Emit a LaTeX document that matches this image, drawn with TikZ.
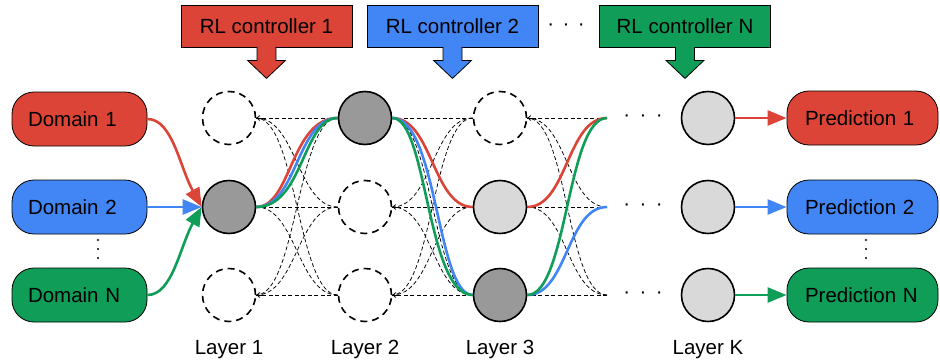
\documentclass[tikz,border=0pt]{standalone}
\usepackage{fontspec}
\setmainfont{Liberation Sans}
\usetikzlibrary{arrows.meta,calc}
\definecolor{gred}{HTML}{DB4437}
\definecolor{gblue}{HTML}{4285F4}
\definecolor{ggreen}{HTML}{0F9D58}
\definecolor{dgray}{HTML}{999999}
\definecolor{lgray}{HTML}{D9D9D9}
\begin{document}
\begin{tikzpicture}[x=1pt,y=-1pt,
  every node/.style={font=\fontsize{20.5}{24}\selectfont},
  unit/.style={circle, draw, line width=1.6pt, minimum size=53pt, inner sep=0pt},
  ghost/.style={unit, dash pattern=on 7pt off 5pt},
  darkunit/.style={unit, fill=dgray},
  lightunit/.style={unit, fill=lgray},
  pill/.style={draw, line width=0.8pt, rounded corners=22pt, minimum height=54pt,
    inner ysep=0pt, align=left},
  dombox/.style={pill, minimum width=135pt, text width=103pt, inner xsep=16pt},
  predbox/.style={pill, minimum width=151pt, text width=115pt, inner xsep=18pt},
  ctrl/.style={draw, line width=0.8pt, minimum width=171pt, minimum height=42pt, inner sep=0pt},
  conn/.style={draw, line width=0.75pt, dash pattern=on 4pt off 2.5pt},
  connarrow/.style={conn, -{Straight Barb[length=3pt,width=5pt]}},
  cline/.style={line width=2.6pt},
  bigtip/.style={-{Triangle[length=19pt,width=15pt]}},
  hdots/.style={inner sep=0pt},
  vdot/.style={circle, fill=black, inner sep=0pt, minimum size=2.4pt}
]
\useasboundingbox (0,0) rectangle (940,362);

% domains
\node[dombox, fill=gred] (D1) at (79.5,119) {Domain 1};
\node[dombox, fill=gblue] (D2) at (79.5,207) {Domain 2};
\node[dombox, fill=ggreen] (DN) at (79.5,295) {Domain N};
\node[vdot] (dv1) at (98,240) {};
\node[vdot] (dv2) at (98,249) {};
\node[vdot] (dv3) at (98,258) {};

% predictions
\node[predbox, fill=gred] (P1) at (862.5,118) {Prediction 1};
\node[predbox, fill=gblue] (P2) at (862.5,207) {Prediction 2};
\node[predbox, fill=ggreen] (PN) at (862.5,295) {Prediction N};
\node[vdot] (pv1) at (866,240) {};
\node[vdot] (pv2) at (866,249) {};
\node[vdot] (pv3) at (866,258) {};

% layers
\node[ghost] (L1a) at (229,118) {};
\node[darkunit] (L1b) at (229,207) {};
\node[ghost] (L1c) at (229,295) {};
\node[darkunit] (L2a) at (365,118) {};
\node[ghost] (L2b) at (365,207) {};
\node[ghost] (L2c) at (365,295) {};
\node[ghost] (L3a) at (500,118) {};
\node[lightunit] (L3b) at (500,207) {};
\node[darkunit] (L3c) at (500,295) {};
\coordinate (E1) at (607,118);
\coordinate (E2) at (607,207);
\coordinate (E3) at (607,295);
\node[lightunit] (LKa) at (708,118) {};
\node[lightunit] (LKb) at (708,207) {};
\node[lightunit] (LKc) at (708,295) {};
\node[hdots] (h1) at (643,118) {·\hspace{9.5pt}·\hspace{9.5pt}·};
\node[hdots] (h2) at (643,207) {·\hspace{9.5pt}·\hspace{9.5pt}·};
\node[hdots] (h3) at (643,295) {·\hspace{9.5pt}·\hspace{9.5pt}·};

% layer labels
\node[anchor=base] (lab1) at (229,354) {Layer 1};
\node[anchor=base] (lab2) at (365,354) {Layer 2};
\node[anchor=base] (lab3) at (500,354) {Layer 3};
\node[anchor=base] (labK) at (708,354) {Layer K};

% controllers
\foreach \n/\x/\c/\t in {c1/266.5/gred/1, c2/452.5/gblue/2, cN/685/ggreen/N}{
  \node[ctrl, fill=\c] (\n) at (\x,26) {RL controller \t};
  \filldraw[fill=\c, line width=0.8pt, line join=miter] (\n.south) ++(-9.5,0) -- ++(0,13) -- ++(-9.5,0)
     -- ++(19,18) -- ++(19,-18) -- ++(-9.5,0) -- ++(0,-13);
  \fill[\c] ($(\n.south)+(-8.9,-1.6)$) rectangle ($(\n.south)+(8.9,1)$);
}
\node[hdots] (topdots) at (566,27) {·\hspace{8.5pt}·\hspace{8.5pt}·};

% dashed candidate connections (arrow barbs only on unused units)
\foreach \l/\r in {L1/L2, L2/L3}{
  \foreach \i in {a,b,c}{
    \foreach \j in {a,b,c}{
      \draw[conn] (\r\j.west) .. controls +(-40,0) and +(40,0) .. (\l\i.east);
    }
  }
}
\foreach \i in {a,b,c}{
  \foreach \j in {1,2,3}{
    \draw[conn] (E\j) .. controls +(-40,0) and +(40,0) .. (L3\i.east);
  }
}
\foreach \t in {L1a,L1c,L2b,L2c,L3a}{
  \draw[connarrow] ($(\t.east)+(6,0)$) -- (\t.east);
}

% domain inputs
\draw[cline, gred, bigtip] (D1.east) .. controls +(25,0) and +(-22,-40) .. (L1b.west);
\draw[cline, ggreen, bigtip] (DN.east) .. controls +(25,0) and +(-22,40) .. (L1b.west);
\draw[cline, gblue, bigtip] (D2.east) -- (L1b.west);

% layer 1 -> layer 2
\draw[cline, gred] (L1b.east) .. controls +(35,0) and +(-47,0) .. (L2a.west);
\draw[cline, gblue] (L1b.east) .. controls +(41,0) and +(-41,0) .. (L2a.west);
\draw[cline, ggreen] (L1b.east) .. controls +(47,0) and +(-35,0) .. (L2a.west);

% layer 2 -> layer 3
\draw[cline, gred] (L2a.east) .. controls +(40,0) and +(-40,0) .. (L3b.west);
\draw[cline, gblue] (L2a.east) .. controls +(45,0) and +(-36,0) .. (L3c.west);
\draw[cline, ggreen] (L2a.east) .. controls +(35,0) and +(-46,0) .. (L3c.west);

% layer 3 -> next
\draw[cline, gred] (L3b.east) .. controls +(40,0) and +(-40,0) .. (E1);
\draw[cline, gblue] (L3c.east) .. controls +(40,0) and +(-40,0) .. (E2);
\draw[cline, ggreen] (L3c.east) .. controls +(40,0) and +(-40,0) .. (E1);

% outputs
\draw[cline, gred, bigtip] (LKa.east) -- (P1.west);
\draw[cline, gblue, bigtip] (LKb.east) -- (P2.west);
\draw[cline, ggreen, bigtip] (LKc.east) -- (PN.west);
\end{tikzpicture}
\end{document}
